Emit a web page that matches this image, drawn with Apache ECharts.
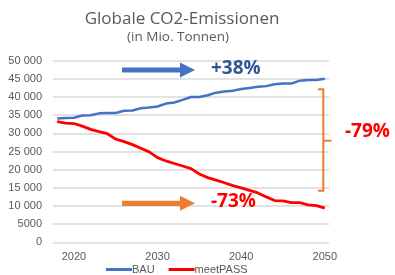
<!DOCTYPE html>
<html>
<head>
<meta charset="utf-8">
<script src="https://cdn.jsdelivr.net/npm/echarts@6/dist/echarts.min.js"></script>
<style>html,body{margin:0;padding:0;background:#fff}#c{width:395px;height:275px}</style>
</head>
<body>
<div id="c"></div>
<script>
const years = [2018,2019,2020,2021,2022,2023,2024,2025,2026,2027,2028,2029,2030,2031,2032,2033,2034,2035,2036,2037,2038,2039,2040,2041,2042,2043,2044,2045,2046,2047,2048,2049,2050];
const bau = [34100,34200,34300,34900,35000,35500,35600,35600,36200,36300,36900,37100,37400,38200,38500,39200,40000,40000,40500,41200,41500,41700,42200,42500,42800,43000,43500,43700,43700,44500,44700,44700,45000];
const meetPass = [33200,32800,32700,32000,31100,30500,29900,28400,27700,26900,25900,24900,23300,22400,21700,21000,20300,18800,17800,17100,16400,15600,15000,14300,13600,12500,11500,11400,10900,10900,10300,10100,9400];
const seriesNames = ['BAU','meetPASS'];
const titleText = 'Globale CO2-Emissionen';
const subtitleText = '(in Mio. Tonnen)';
const labelBau = '+38%';
const labelPass = '-73%';
const labelGap = '-79%';

const FONT = '"Liberation Sans Narrow","Liberation Sans",sans-serif';
const chart = echarts.init(document.getElementById('c'), null, {renderer:'canvas'});

function fmt(v){ const s=String(v); return v>=10000 ? s.slice(0,-3)+' '+s.slice(-3) : s; }

function arrow(x0, x1, yc, color){
  const hl = 15, sh = 2.6, hh = 7.5;
  return {type:'polygon', shape:{points:[[x0,yc-sh],[x1-hl,yc-sh],[x1-hl,yc-hh],[x1,yc],[x1-hl,yc+hh],[x1-hl,yc+sh],[x0,yc+sh]]}, style:{fill:color}, z:10};
}

chart.setOption({
  animation:false,
  grid:{left:53,right:66,top:60.7,bottom:32.7},
  title:[
    {text:titleText, left:177, top:6, textAlign:'center', textStyle:{fontFamily:'"Open Sans",sans-serif',fontSize:17,fontWeight:'normal',color:'#595959'}},
    {text:subtitleText, left:173, top:25, textAlign:'center', textStyle:{fontFamily:'"Open Sans",sans-serif',fontSize:13.5,fontWeight:'normal',color:'#595959'}}
  ],
  legend:{data:seriesNames, left:106, top:264, itemWidth:26, itemHeight:3, itemGap:14, icon:'rect',
    textStyle:{fontFamily:FONT,fontSize:11,color:'#595959',padding:[0,0,0,-5]}, padding:0},
  xAxis:{type:'category', data:years, boundaryGap:true,
    axisLine:{show:false}, axisTick:{show:false},
    axisLabel:{interval:function(i,v){return Number(v)%10===0;}, fontFamily:FONT,fontSize:11,color:'#595959',margin:9}},
  yAxis:{type:'value', min:0, max:50000, interval:5000,
    axisLine:{show:false}, axisTick:{show:false},
    splitLine:{lineStyle:{color:'#D9D9D9',width:1.5}},
    axisLabel:{formatter:fmt, fontFamily:FONT,fontSize:11,color:'#595959',margin:11}},
  series:[
    {name:seriesNames[0], type:'line', data:bau, symbol:'none', lineStyle:{color:'#4472C4',width:2.5}, itemStyle:{color:'#4472C4'}},
    {name:seriesNames[1], type:'line', data:meetPass, symbol:'none', lineStyle:{color:'#FF0000',width:2.8}, itemStyle:{color:'#FF0000'}}
  ],
  graphic:[
    arrow(122,195,70,'#4472C4'),
    arrow(122,195,203.3,'#ED7D31'),
    {type:'text', left:211, top:59, style:{text:labelBau, font:'bold 19px "Open Sans",sans-serif', fill:'#2F5597'}, z:10},
    {type:'text', left:211, top:192, style:{text:labelPass, font:'bold 19px "Open Sans",sans-serif', fill:'#FF0000'}, z:10},
    {type:'text', left:345, top:122, style:{text:labelGap, font:'bold 19px "Open Sans",sans-serif', fill:'#FF0000'}, z:10},
    {type:'polyline', shape:{points:[[318,89.3],[323.3,89.3],[323.3,190.7],[318,190.7]]}, style:{stroke:'#ED7D31',lineWidth:2,fill:null}, z:10},
    {type:'line', shape:{x1:323.3,y1:140.7,x2:331.5,y2:140.7}, style:{stroke:'#ED7D31',lineWidth:2}, z:10}
  ]
});
</script>
</body>
</html>
